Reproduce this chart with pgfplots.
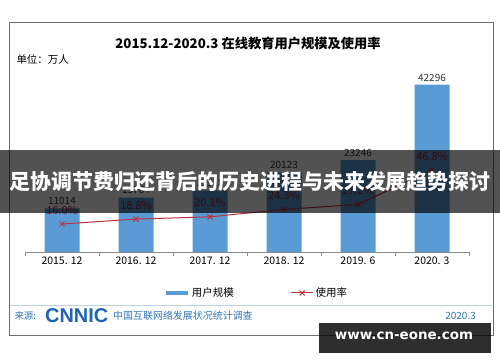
\documentclass[border=0pt]{standalone}
\usepackage{pgfplots}
\pgfplotsset{compat=1.18}
\usepackage{fontspec}
\setmainfont{Noto Sans CJK SC}
\newfontfamily\lsans{Liberation Sans}
\newfontfamily\dvs{DejaVu Sans}
\definecolor{barblue}{RGB}{91,155,213}
\definecolor{linered}{RGB}{185,50,60}
\definecolor{pctred}{RGB}{150,40,45}
\definecolor{srcblue}{RGB}{46,117,182}
\definecolor{logoblue}{RGB}{30,100,180}
\definecolor{framegray}{RGB}{110,110,110}
\definecolor{seplight}{RGB}{190,210,230}
\begin{document}
\begin{tikzpicture}
\useasboundingbox (0,0) rectangle (500bp,362bp);
\fill[white] (0,0) rectangle (500bp,362bp);
\draw[framegray, line width=1bp] (9bp,26bp) rectangle (493bp,339bp);
\node[font=\bfseries\fontsize{13.3}{15}\selectfont] at (248bp,319bp) {2015.12-2020.3 在线教育用户规模及使用率};
\node[anchor=west, font=\fontsize{10.5}{12}\selectfont] at (13bp,302bp) {单位：万人};

\begin{axis}[at={(25bp,110bp)}, anchor=south west, scale only axis,
  width=444bp, height=182bp,
  xmin=-0.5, xmax=5.5, ymin=0, ymax=46000,
  axis y line=none, axis x line*=bottom,
  axis line style={black!45, -},
  xtick={0,...,5},
  xticklabels={2015. 12, 2016. 12, 2017. 12, 2018. 12, 2019. 6, 2020. 3},
  major tick length=0pt,
  extra x ticks={-0.5,0.5,1.5,2.5,3.5,4.5,5.5},
  extra x tick labels={},
  extra x tick style={major tick length=4bp, tick align=outside, tick style={black!45}},
  xticklabel style={font=\fontsize{10.5}{12}\selectfont, yshift=-1bp},
  /pgf/number format/assume math mode=true,
  /pgf/number format/1000 sep={},
  ybar, bar width=35bp,
  nodes near coords,
  every node near coord/.append style={font=\fontsize{10}{12}\selectfont, color=black!80},
  clip=false]
\addplot[fill=barblue, draw=none, bar shift=0pt] coordinates {(0,11014) (1,13764) (2,15518) (3,20123) (4,23246) (5,42296)};
\end{axis}

\begin{axis}[at={(25bp,110bp)}, anchor=south west, scale only axis,
  width=444bp, height=182bp,
  xmin=-0.5, xmax=5.5, ymin=0, ymax=104,
  hide axis, clip=false,
  /pgf/number format/assume math mode=true,
  legend image code/.code={\draw[#1] (0bp,0bp) -- (22bp,0bp); \draw[#1, only marks] plot coordinates {(11bp,0bp)};},
  legend style={at={(0.5214,-0.225)}, anchor=center, draw=none, fill=none,
    legend columns=2, font=\fontsize{10.5}{12}\selectfont}]
\addlegendimage{barblue, line width=4bp, no markers}
\addlegendentry{用户规模\rule{55bp}{0pt}}
\addplot[linered, line width=1bp, mark=x, mark size=3.5bp, mark options={line width=1bp},
  nodes near coords={\pgfmathprintnumber[fixed,fixed zerofill,precision=1]{\pgfplotspointmeta}\%},
  every node near coord/.append style={color=pctred, font=\fontsize{11}{12}\selectfont, yshift=6bp}]
  coordinates {(0,16.0) (1,18.8) (2,20.1) (3,24.3) (4,27.2) (5,46.8)};
\addlegendentry{使用率}
\end{axis}

\draw[seplight, line width=1bp] (10bp,56bp) -- (492bp,56bp);
\node[anchor=west, srcblue, font=\fontsize{9.5}{11}\selectfont] at (11bp,46bp) {来源:};
\node[anchor=west, logoblue, font=\lsans\bfseries\fontsize{20}{22}\selectfont, inner sep=0pt] at (45bp,46bp) {CNNIC};
\node[anchor=west, srcblue, font=\fontsize{10}{11}\selectfont, inner sep=0pt] at (113bp,46bp) {中国互联网络发展状况统计调查};
\node[anchor=east, srcblue, font=\fontsize{10}{11}\selectfont, inner sep=0pt] at (476bp,46bp) {2020.3};

\fill[black, opacity=0.68] (0bp,149bp) rectangle (500bp,212bp);
\node[white, font=\bfseries\fontsize{21}{24}\selectfont] at (250bp,180bp) {足协调节费归还背后的历史进程与未来发展趋势探讨};

\fill[black, opacity=0.82] (319bp,9bp) rectangle (491bp,39bp);
\node[white, font=\dvs\bfseries\fontsize{13.5}{15}\selectfont] at (404bp,26bp) {www.cn-eone.com};
\end{tikzpicture}
\end{document}
